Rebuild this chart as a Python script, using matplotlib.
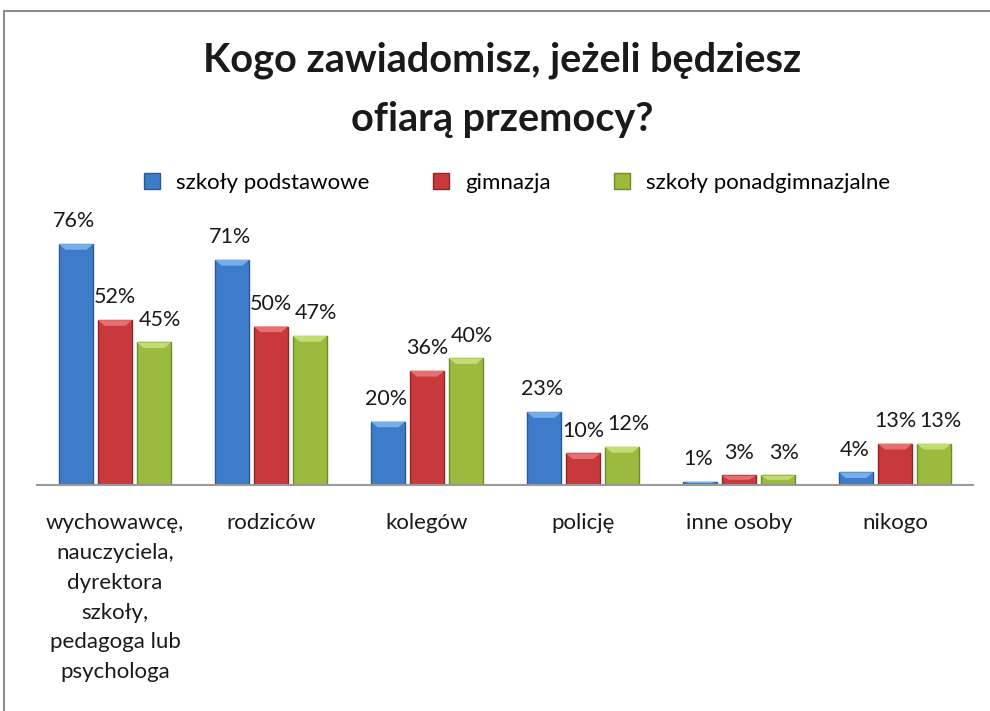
import matplotlib.pyplot as plt
import numpy as np
from matplotlib.patches import Rectangle
from matplotlib.lines import Line2D

plt.rcParams['font.family'] = ['Lato', 'DejaVu Sans']

categories = ['wychowawcę,\nnauczyciela,\ndyrektora\nszkoły,\npedagoga lub\npsychologa',
              'rodziców', 'kolegów', 'policję', 'inne osoby', 'nikogo']
series = ['szkoły podstawowe', 'gimnazja', 'szkoły ponadgimnazjalne']
podstawowe = [76, 71, 20, 23, 1, 4]
gimnazja = [52, 50, 36, 10, 3, 13]
ponadgimn = [45, 47, 40, 12, 3, 13]

colors = ['#3d7cc9', '#c8393c', '#9abb3e']
edges = ['#2a5a96', '#8f2527', '#6f8a2a']
lights = ['#78aee8', '#e57073', '#c3dd75']

fig = plt.figure(figsize=(9.9, 7.11), dpi=100)
# outer chart frame (cropped on right and bottom)
fig.add_artist(Rectangle((4 / 990, -0.1), 1.2, 1.1 - 11 / 711,
                         transform=fig.transFigure, fill=False,
                         edgecolor='#8c8c8c', linewidth=1.5))

ax = fig.add_axes([37 / 990, 1 - 485 / 711, 936 / 990, 317 / 711])
x = np.arange(len(categories))
w = 0.22
offs = [-0.25, 0, 0.25]
label_nudge = [-0.01, 0, 0.04]
for vals, off, nud, c, ec, lc in zip([podstawowe, gimnazja, ponadgimn], offs, label_nudge,
                                     colors, edges, lights):
    bars = ax.bar(x + off, vals, width=w, color=c, edgecolor=ec, linewidth=1.0, zorder=2)
    # light bevel on top of each bar
    for b in bars:
        bx, bw, bh = b.get_x(), b.get_width(), b.get_height()
        bev = min(1.8, bh * 0.45)
        ax.fill([bx, bx + bw, bx + bw * 0.8, bx + bw * 0.2],
                [bh, bh, bh - bev, bh - bev], color=lc, zorder=3, lw=0)
    for xi, v in zip(x + off + nud, vals):
        ax.text(xi, v + 4, f'{v}%', ha='center', va='bottom', fontsize=15.5, color='#1a1a1a')

ax.set_xlim(-0.5, len(categories) - 0.5)
ax.set_ylim(0, 100)
ax.set_yticks([])
ax.set_xticks(x)
ax.set_xticklabels(categories, fontsize=16, linespacing=1.62, color='#1a1a1a')
ax.tick_params(axis='x', length=0, pad=20)
for s in ['top', 'right', 'left']:
    ax.spines[s].set_visible(False)
ax.spines['bottom'].set_color('#9a9a9a')
ax.spines['bottom'].set_linewidth(1.5)

fig.text(502 / 990, 1 - 90 / 711, 'Kogo zawiadomisz, jeżeli będziesz\nofiarą przemocy?',
         ha='center', va='center', fontsize=28.5, fontweight='bold', linespacing=1.75,
         color='#1a1a1a')

handles = [Line2D([], [], marker='s', linestyle='', markersize=12, markerfacecolor=c,
                  markeredgecolor=ec) for c, ec in zip(colors, edges)]
fig.legend(handles, series, loc='center', bbox_to_anchor=(510 / 990, 1 - 183 / 711),
           ncol=3, frameon=False, fontsize=16, handletextpad=0.1, columnspacing=2.2)

fig.savefig('out.png', dpi=100)
